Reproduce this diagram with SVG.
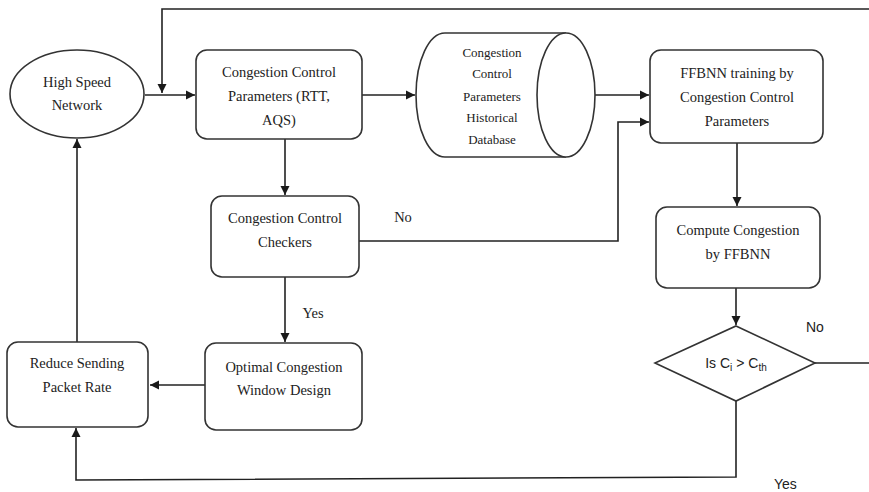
<svg xmlns="http://www.w3.org/2000/svg" width="869" height="492" viewBox="0 0 869 492">
<defs>
<marker id="ah" markerWidth="10" markerHeight="10" refX="9" refY="5" orient="auto" markerUnits="userSpaceOnUse">
<path d="M0,0.5 L9,5 L0,9.5 Z" fill="#1a1a1a"/>
</marker>
</defs>
<style>
.n{fill:#fff;stroke:#333;stroke-width:1.6}
.c{fill:none;stroke:#222;stroke-width:1.6}
.t{font-family:"Liberation Serif","Times New Roman",serif;font-size:14.5px;fill:#222;text-anchor:middle}
.s{font-family:"Liberation Serif","Times New Roman",serif;font-size:13px;fill:#222;text-anchor:middle}
.a{font-family:"Liberation Sans",Arial,sans-serif;font-size:14px;fill:#222}
</style>
<rect width="869" height="492" fill="#fff"/>
<g id="connectors">
<path class="c" d="M869,9 L162,9 L162,93" marker-end="url(#ah)"/>
<path class="c" d="M145,95 L195,95" marker-end="url(#ah)"/>
<path class="c" d="M362,95 L415,95" marker-end="url(#ah)"/>
<path class="c" d="M595,95 L649,95" marker-end="url(#ah)"/>
<path class="c" d="M359,241 L618,241 L618,122 L649,122" marker-end="url(#ah)"/>
<path class="c" d="M285,139 L285,195" marker-end="url(#ah)"/>
<path class="c" d="M285,277 L285,342" marker-end="url(#ah)"/>
<path class="c" d="M205,385 L150,385" marker-end="url(#ah)"/>
<path class="c" d="M77,342 L77,139" marker-end="url(#ah)"/>
<path class="c" d="M737,143 L737,206" marker-end="url(#ah)"/>
<path class="c" d="M736,288 L736,325" marker-end="url(#ah)"/>
<path class="c" d="M815,363 L869,363"/>
<path class="c" d="M736,401 L736,477 L76,480 L76,428" marker-end="url(#ah)"/>
<text class="t" x="403" y="222">No</text>
<text class="t" x="313" y="318">Yes</text>
<text class="a" x="806" y="332">No</text>
<text class="a" x="774" y="489">Yes</text>
</g>
<g id="high-speed-network">
<ellipse class="n" cx="77" cy="94" rx="67" ry="44"/>
<text class="t" x="77" y="87">High Speed</text>
<text class="t" x="77" y="110">Network</text>
</g>
<g id="cc-params">
<rect class="n" x="196" y="50" width="166" height="89" rx="11"/>
<text class="t" x="279" y="77">Congestion Control</text>
<text class="t" x="279" y="101">Parameters (RTT,</text>
<text class="t" x="279" y="125">AQS)</text>
</g>
<g id="database">
<path class="n" d="M566,33 L445,33 A29,62 0 0 0 445,157 L566,157"/>
<ellipse class="n" cx="566" cy="95" rx="29" ry="62"/>
<text class="s" x="492" y="57">Congestion</text>
<text class="s" x="492" y="78">Control</text>
<text class="s" x="492" y="101">Parameters</text>
<text class="s" x="492" y="122">Historical</text>
<text class="s" x="492" y="144">Database</text>
</g>
<g id="ffbnn-training">
<rect class="n" x="650" y="50" width="173" height="93" rx="11"/>
<text class="t" x="737" y="78">FFBNN training by</text>
<text class="t" x="737" y="102">Congestion Control</text>
<text class="t" x="737" y="126">Parameters</text>
</g>
<g id="checkers">
<rect class="n" x="211" y="196" width="148" height="81" rx="11"/>
<text class="t" x="285" y="223">Congestion Control</text>
<text class="t" x="285" y="247">Checkers</text>
</g>
<g id="optimal-window">
<rect class="n" x="205" y="343" width="157" height="87" rx="11"/>
<text class="t" x="284" y="372">Optimal Congestion</text>
<text class="t" x="284" y="395">Window Design</text>
</g>
<g id="reduce-rate">
<rect class="n" x="7" y="342" width="141" height="85" rx="11"/>
<text class="t" x="77" y="368">Reduce Sending</text>
<text class="t" x="77" y="392">Packet Rate</text>
</g>
<g id="compute-congestion">
<rect class="n" x="656" y="207" width="164" height="81" rx="11"/>
<text class="t" x="738" y="235">Compute Congestion</text>
<text class="t" x="738" y="259">by FFBNN</text>
</g>
<g id="decision">
<polygon class="n" points="736,326 815,363 736,401 655,363"/>
<text class="a" x="736" y="368" text-anchor="middle">Is C<tspan font-size="10" dy="3">i</tspan><tspan dy="-3"> &gt; C</tspan><tspan font-size="10" dy="3">th</tspan></text>
</g>
</svg>
